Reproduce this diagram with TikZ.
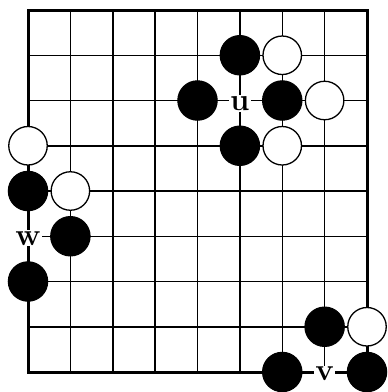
\documentclass[tikz,border=0pt]{standalone}
\begin{document}
\begin{tikzpicture}[x=42.375pt,y=-45.25pt,
  bstone/.style={circle,fill=black,draw=black,line width=1pt,minimum size=39.5pt,inner sep=0pt},
  wstone/.style={circle,fill=white,draw=black,line width=1.3pt,minimum size=38.5pt,inner sep=0pt},
  lbl/.style={fill=white,inner sep=1pt,font=\fontsize{31}{35}\selectfont\bfseries},
  gridline/.style={line width=1.5pt},
  boardedge/.style={line width=3pt}]
\useasboundingbox (-0.6608,-0.221) rectangle (8.472,8.442);
% grid
\foreach \i in {1,...,7} {
  \draw[gridline] (\i,0) -- (\i,8);
  \draw[gridline] (0,\i) -- (8,\i);
}
\draw[boardedge] (0,0) rectangle (8,8);
% top-right group
\node[bstone] (b51) at (5,1) {};
\node[wstone] (w61) at (6,1) {};
\node[bstone] (b42) at (4,2) {};
\node[lbl,yshift=-3pt] (u) at (5,2) {u};
\node[bstone] (b62) at (6,2) {};
\node[wstone] (w72) at (7,2) {};
\node[bstone] (b53) at (5,3) {};
\node[wstone] (w63) at (6,3) {};
% left group
\node[wstone] (w03) at (0,3) {};
\node[bstone] (b04) at (0,4) {};
\node[wstone] (w14) at (1,4) {};
\node[lbl,yshift=-2pt] (w) at (0,5) {w};
\node[bstone] (b15) at (1,5) {};
\node[bstone] (b06) at (0,6) {};
% bottom-right group
\node[bstone] (b77) at (7,7) {};
\node[wstone] (w87) at (8,7) {};
\node[bstone] (b68) at (6,8) {};
\node[lbl,yshift=-2pt] (v) at (7,8) {v};
\node[bstone] (b88) at (8,8) {};
\end{tikzpicture}
\end{document}
